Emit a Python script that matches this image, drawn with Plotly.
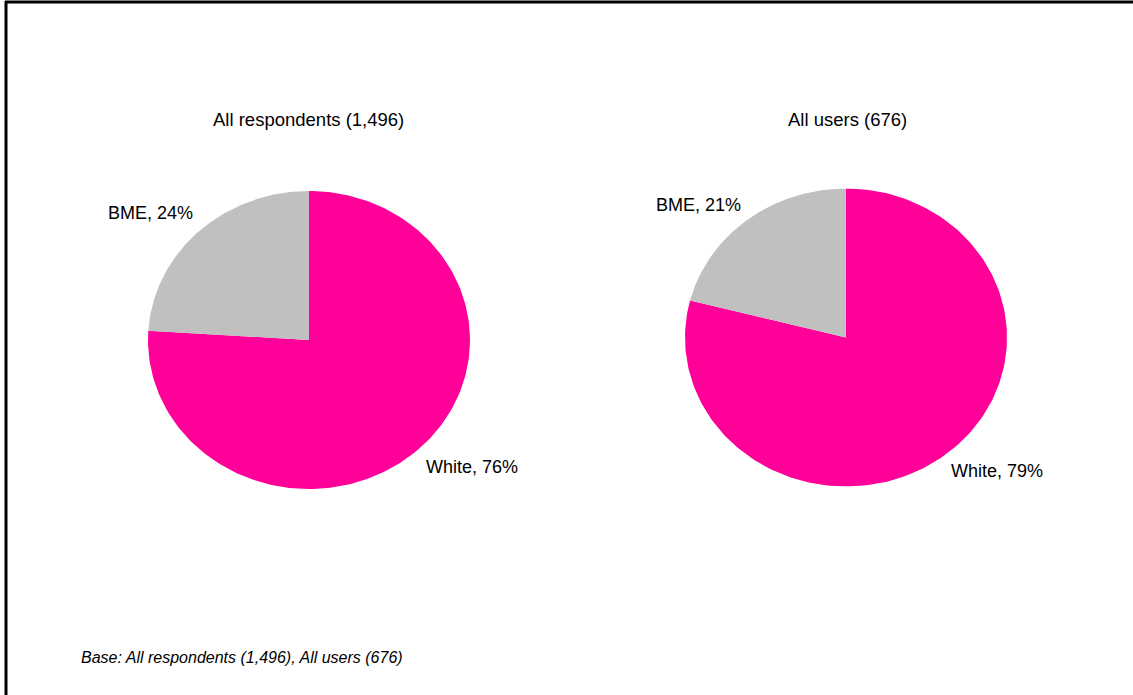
import numpy as np
import plotly.graph_objects as go

# Ethnicity split for the two bases
categories = ["White", "BME"]
all_respondents = [76, 24]
all_users = [79, 21]
pie_titles = ["All respondents (1,496)", "All users (676)"]
footnote = "Base: All respondents (1,496), All users (676)"

colors = {"White": "#FF0099", "BME": "#C0C0C0"}
FONT = "Liberation Sans, Arial, sans-serif"

W, H = 1133, 695
# pie centres and half-axes in pixels (the pies are slightly elliptical)
pies = [
    dict(values=all_respondents, cx=309, cy=340, rx=161, ry=149, ax=""),
    dict(values=all_users, cx=846, cy=337.5, rx=161, ry=149, ax="2"),
]

fig = go.Figure()


def wedge(start_frac, end_frac, n=200):
    # angles measured clockwise from 12 o'clock
    t = np.linspace(start_frac, end_frac, n) * 2 * np.pi
    x = np.concatenate([[0], np.sin(t), [0]])
    y = np.concatenate([[0], np.cos(t), [0]])
    return x, y


for p in pies:
    total = sum(p["values"])
    start = 0.0
    for cat, v in zip(categories, p["values"]):
        end = start + v / total
        x, y = wedge(start, end)
        fig.add_trace(go.Scatter(
            x=x, y=y, mode="lines", fill="toself",
            fillcolor=colors[cat], line=dict(width=0, color=colors[cat]),
            xaxis="x" + p["ax"], yaxis="y" + p["ax"],
            hoverinfo="text", text=f"{cat}, {v}%", showlegend=False,
        ))
        start = end
    key = p["ax"]
    fig.layout["xaxis" + key] = dict(
        domain=[(p["cx"] - p["rx"]) / W, (p["cx"] + p["rx"]) / W],
        range=[-1, 1], visible=False, fixedrange=True)
    fig.layout["yaxis" + key] = dict(
        domain=[1 - (p["cy"] + p["ry"]) / H, 1 - (p["cy"] - p["ry"]) / H],
        range=[-1, 1], visible=False, fixedrange=True)

# text placements (pixel positions of label centres)
label_pos = [
    [(471.5, 467), (150, 213)],
    [(997, 471), (698, 205)],
]
title_pos = [(308, 119), (847, 119)]

ann = []
for p, title, tpos, lpos in zip(pies, pie_titles, title_pos, label_pos):
    ann.append(dict(x=tpos[0] / W, y=1 - tpos[1] / H, xref="paper", yref="paper",
                    text=title, showarrow=False, xanchor="center", yanchor="middle",
                    font=dict(size=18.5, color="#000000", family=FONT)))
    for cat, v, (lx, ly) in zip(categories, p["values"], lpos):
        ann.append(dict(x=lx / W, y=1 - ly / H, xref="paper", yref="paper",
                        text=f"{cat}, {v}%", showarrow=False,
                        xanchor="center", yanchor="middle",
                        font=dict(size=18, color="#000000", family=FONT)))
ann.append(dict(x=79 / W, y=1 - 657 / H, xref="paper", yref="paper",
                text=f"<i>{footnote}</i>", showarrow=False,
                xanchor="left", yanchor="middle",
                font=dict(size=16, color="#000000", family=FONT)))

# frame lines on the left and top edges
shapes = [
    dict(type="line", xref="paper", yref="paper", x0=6 / W, x1=6 / W, y0=0, y1=1 - 1 / H,
         line=dict(color="#000000", width=3)),
    dict(type="line", xref="paper", yref="paper", x0=5 / W, x1=1, y0=1 - 2 / H, y1=1 - 2 / H,
         line=dict(color="#000000", width=3)),
]

fig.update_layout(
    width=W, height=H,
    margin=dict(l=0, r=0, t=0, b=0),
    paper_bgcolor="#FFFFFF", plot_bgcolor="#FFFFFF",
    annotations=ann, shapes=shapes,
    showlegend=False,
)

fig.write_html("out.html", config={"displayModeBar": False})
